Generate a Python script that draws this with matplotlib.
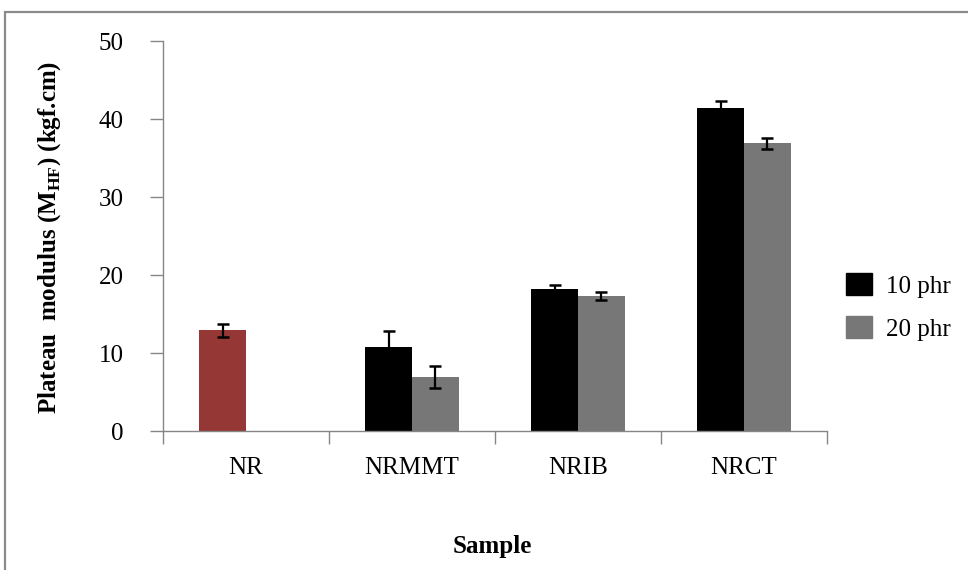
import numpy as np
import matplotlib
matplotlib.use("Agg")
import matplotlib.pyplot as plt
from matplotlib.patches import Rectangle

# --- data ---
samples = ["NR", "NRMMT", "NRIB", "NRCT"]
series_names = ["10 phr", "20 phr"]
vals_10 = [12.9, 10.8, 18.2, 41.4]
err_10 = [0.8, 2.0, 0.5, 0.95]
vals_20 = [np.nan, 6.9, 17.3, 36.9]
err_20 = [np.nan, 1.45, 0.55, 0.7]

plt.rcParams["font.family"] = ["Liberation Serif", "DejaVu Serif"]
plt.rcParams["mathtext.fontset"] = "custom"
plt.rcParams["mathtext.rm"] = "Liberation Serif:bold"

axis_grey = "#868686"
c_black = "#000000"
c_grey = "#777777"
c_red = "#953735"
fs = 18

fig = plt.figure(figsize=(9.68, 5.70), dpi=100)
ax = fig.add_axes([163 / 968, 1 - 431 / 570, 664 / 968, 390 / 570])

x = np.arange(len(samples)) + 0.5
w = 0.283

# NR has no 20 phr sample, its single bar is shown in red
cols_10 = [c_red] + [c_black] * (len(samples) - 1)
ax.bar(x - w / 2, vals_10, w, color=cols_10, zorder=2)
ax.bar(x + w / 2, vals_20, w, color=c_grey, zorder=2)

ekw = dict(fmt="none", ecolor="black", elinewidth=1.6, capsize=4.5, capthick=1.8, zorder=3)
ax.errorbar(x - w / 2, vals_10, yerr=err_10, **ekw)
ax.errorbar(x + w / 2, vals_20, yerr=err_20, **ekw)

ax.set_xlim(0, len(samples))
ax.set_ylim(0, 50)
ax.set_yticks(range(0, 51, 10))
ax.set_xticks(range(len(samples) + 1))
ax.set_xticklabels([])
ax.set_xticks(x, minor=True)
ax.set_xticklabels(samples, minor=True)

for side in ["top", "right"]:
    ax.spines[side].set_visible(False)
for side in ["left", "bottom"]:
    ax.spines[side].set_color(axis_grey)
    ax.spines[side].set_linewidth(1.0)

ax.tick_params(axis="y", which="major", direction="out", length=9.5, width=1.0,
               color=axis_grey, labelsize=fs, pad=19)
ax.tick_params(axis="x", which="major", direction="out", length=9, width=1.0,
               color=axis_grey)
ax.tick_params(axis="x", which="minor", length=0, labelsize=fs, pad=19)

ax.set_ylabel(r"Plateau  modulus (M$_{\mathrm{HF}}$) (kgf.cm)", fontsize=fs,
              fontweight="bold")
ax.yaxis.set_label_coords(63 / 968, 1 - 237 / 570, transform=fig.transFigure)
ax.set_xlabel("Sample", fontsize=fs, fontweight="bold")
ax.xaxis.set_label_coords(492 / 968, 1 - 547 / 570, transform=fig.transFigure)
ax.xaxis.label.set_va("center")

handles = [Rectangle((0, 0), 1, 1, color=c_black), Rectangle((0, 0), 1, 1, color=c_grey)]
fig.legend(handles, series_names, loc="center left",
           bbox_to_anchor=(846 / 968, 1 - 307 / 570), frameon=False,
           fontsize=fs, handlelength=1.05, handleheight=0.95,
           handletextpad=0.55, labelspacing=0.75, borderpad=0, borderaxespad=0)

# outer frame, only top and left edges fall inside the canvas
fig.patches.append(Rectangle((4.5 / 968, -0.1), 1.2, 1 - 12.5 / 570 + 0.1,
                             transform=fig.transFigure, fill=False,
                             edgecolor="#8a8a8a", linewidth=1.6))

fig.savefig("out.png", dpi=100)
